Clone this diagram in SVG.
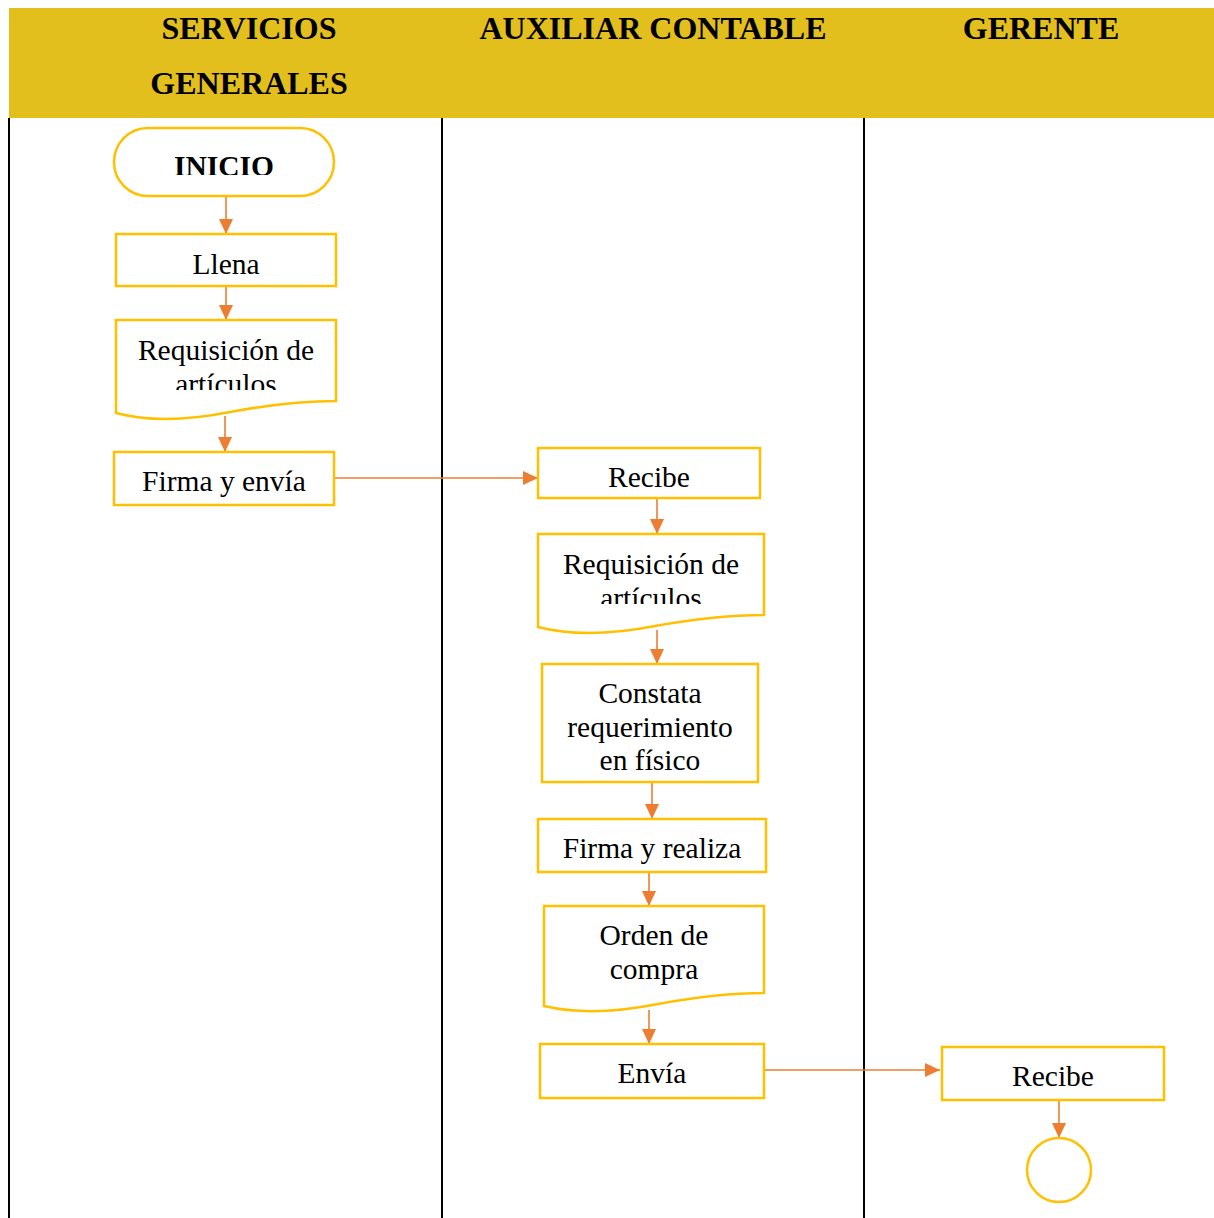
<svg xmlns="http://www.w3.org/2000/svg" width="1214" height="1218" viewBox="0 0 1214 1218">
  <style>
    .hdr { font-family: "Liberation Serif", "Times New Roman", serif; font-weight: bold; font-size: 32px; fill: #000; text-anchor: middle; }
    .lbl { font-family: "Liberation Serif", "Times New Roman", serif; font-size: 29.5px; fill: #000; text-anchor: middle; }
    .shape { fill: #fff; stroke: #FFC000; stroke-width: 2.5; }
    .lane { stroke: #000; stroke-width: 2; }
    .conn { stroke: #ED7D31; stroke-width: 1.6; fill: none; marker-end: url(#arrow); }
  </style>
  <defs>
    <marker id="arrow" markerUnits="userSpaceOnUse" markerWidth="17" markerHeight="16" refX="15" refY="7" orient="auto">
      <path d="M0,0 L15,7 L0,14 Z" fill="#ED7D31"/>
    </marker>
    <clipPath id="clipInicio"><rect x="114" y="128" width="220" height="47"/></clipPath>
    <clipPath id="clipDoc1"><rect x="116" y="320" width="220" height="70"/></clipPath>
    <clipPath id="clipDoc2"><rect x="538" y="534" width="226" height="70"/></clipPath>
  </defs>

  <rect width="1214" height="1218" fill="#fff"/>

  <!-- header band -->
  <g id="header">
    <rect x="9" y="8" width="1205" height="110" fill="#E2BF1C"/>
    <text class="hdr" x="249" y="39">SERVICIOS</text>
    <text class="hdr" x="249" y="94">GENERALES</text>
    <text class="hdr" x="653" y="39">AUXILIAR CONTABLE</text>
    <text class="hdr" x="1041" y="39">GERENTE</text>
  </g>

  <!-- lane separators -->
  <g id="lanes">
    <line class="lane" x1="9" y1="118" x2="9" y2="1218"/>
    <line class="lane" x1="442" y1="118" x2="442" y2="1218"/>
    <line class="lane" x1="864" y1="118" x2="864" y2="1218"/>
  </g>

  <!-- connectors -->
  <g id="connectors">
    <line class="conn" x1="226" y1="196" x2="226" y2="234"/>
    <line class="conn" x1="226" y1="286" x2="226" y2="320"/>
    <line class="conn" x1="225" y1="416" x2="225" y2="452"/>
    <line class="conn" x1="334" y1="478" x2="538" y2="478"/>
    <line class="conn" x1="657" y1="498" x2="657" y2="534"/>
    <line class="conn" x1="657" y1="630" x2="657" y2="664"/>
    <line class="conn" x1="652" y1="782" x2="652" y2="819"/>
    <line class="conn" x1="649" y1="872" x2="649" y2="906"/>
    <line class="conn" x1="649" y1="1010" x2="649" y2="1044"/>
    <line class="conn" x1="764" y1="1070" x2="940" y2="1070"/>
    <line class="conn" x1="1059" y1="1100" x2="1059" y2="1138"/>
  </g>

  <!-- nodes -->
  <g id="inicio">
    <rect class="shape" x="114" y="128" width="220" height="68" rx="34" ry="34"/>
    <text class="lbl" x="224" y="176" font-weight="bold" clip-path="url(#clipInicio)">INICIO</text>
  </g>

  <g id="llena">
    <rect class="shape" x="116" y="234" width="220" height="52"/>
    <text class="lbl" x="226" y="274">Llena</text>
  </g>

  <g id="requisicion1">
    <path class="shape" d="M116,320 H336 V401 C300,401 268,405 230,412 C190,420 150,422 116,413 Z"/>
    <g clip-path="url(#clipDoc1)">
      <text class="lbl" x="226" y="360">Requisición de</text>
      <text class="lbl" x="226" y="394">artículos</text>
    </g>
  </g>

  <g id="firma-envia">
    <rect class="shape" x="114" y="452" width="220" height="53"/>
    <text class="lbl" x="224" y="491">Firma y envía</text>
  </g>

  <g id="recibe-auxiliar">
    <rect class="shape" x="538" y="448" width="222" height="50"/>
    <text class="lbl" x="649" y="487">Recibe</text>
  </g>

  <g id="requisicion2">
    <path class="shape" d="M538,534 H764 V615 C727,615 694,619 655,626 C614,634 573,636 538,627 Z"/>
    <g clip-path="url(#clipDoc2)">
      <text class="lbl" x="651" y="574">Requisición de</text>
      <text class="lbl" x="651" y="608">artículos</text>
    </g>
  </g>

  <g id="constata">
    <rect class="shape" x="542" y="664" width="216" height="118"/>
    <text class="lbl" x="650" y="703">Constata</text>
    <text class="lbl" x="650" y="737">requerimiento</text>
    <text class="lbl" x="650" y="770">en físico</text>
  </g>

  <g id="firma-realiza">
    <rect class="shape" x="538" y="819" width="228" height="53"/>
    <text class="lbl" x="652" y="858">Firma y realiza</text>
  </g>

  <g id="orden-compra">
    <path class="shape" d="M544,906 H764 V993 C728,993 696,997 658,1004 C618,1012 578,1014 544,1006 Z"/>
    <text class="lbl" x="654" y="945">Orden de</text>
    <text class="lbl" x="654" y="979">compra</text>
  </g>

  <g id="envia">
    <rect class="shape" x="540" y="1044" width="224" height="54"/>
    <text class="lbl" x="652" y="1083">Envía</text>
  </g>

  <g id="recibe-gerente">
    <rect class="shape" x="942" y="1047" width="222" height="53"/>
    <text class="lbl" x="1053" y="1086">Recibe</text>
  </g>

  <g id="fin">
    <circle class="shape" cx="1059" cy="1170" r="32"/>
  </g>
</svg>
